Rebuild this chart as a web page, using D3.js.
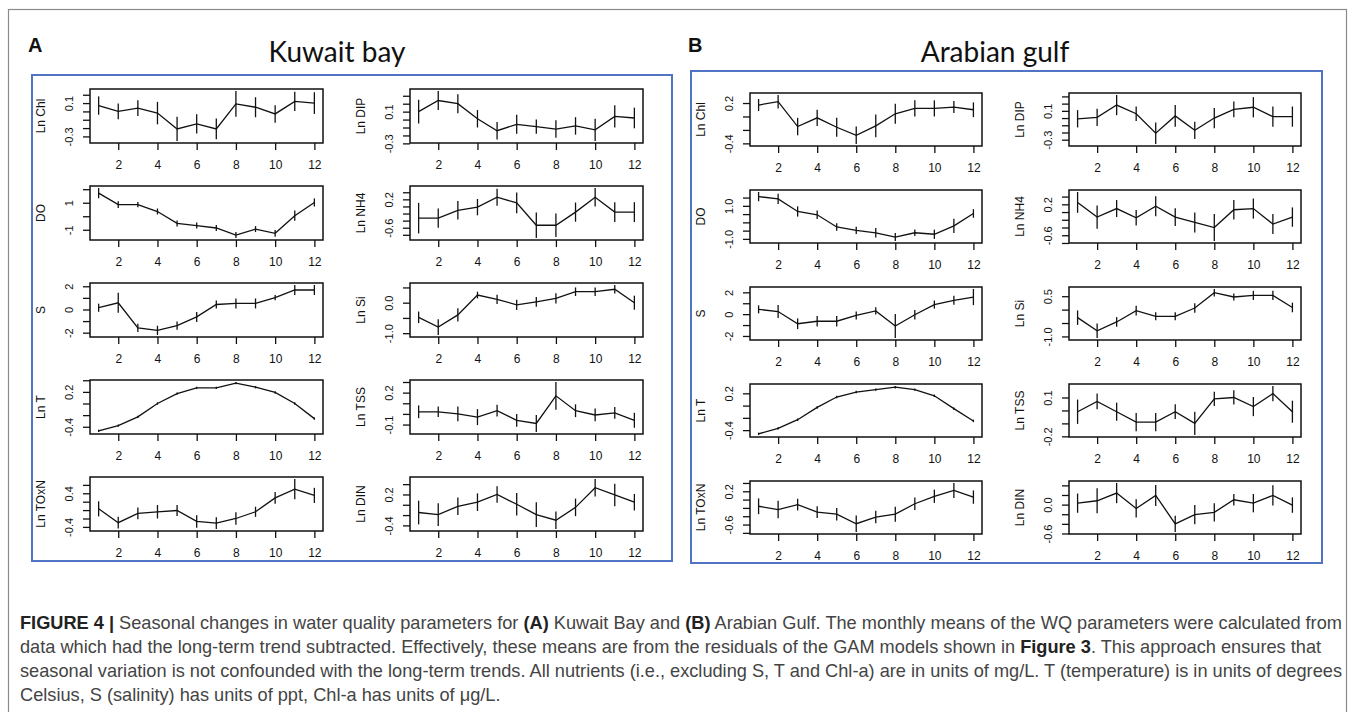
<!DOCTYPE html>
<html>
<head>
<meta charset="utf-8">
<script src="https://cdn.jsdelivr.net/npm/d3@7"></script>
<style>
  html, body { margin: 0; padding: 0; background: #fff; }
  svg { display: block; }
</style>
</head>
<body>
<div id="chart"></div>
<script>
const months = [1, 2, 3, 4, 5, 6, 7, 8, 9, 10, 11, 12];
const monthTicks = [2, 4, 6, 8, 10, 12];

// Kuwait bay (A): monthly means and error half-widths
const kwChl    = [0.07, 0.00, 0.04, -0.02, -0.21, -0.15, -0.21, 0.09, 0.05, -0.03, 0.12, 0.10];
const kwChlSe  = [0.11, 0.095, 0.095, 0.135, 0.145, 0.115, 0.125, 0.155, 0.12, 0.105, 0.115, 0.13];
const kwDO     = [1.71, 0.86, 0.86, 0.35, -0.53, -0.69, -0.87, -1.39, -0.95, -1.26, 0.04, 1.02];
const kwDOSe   = [0.38, 0.25, 0.20, 0.22, 0.22, 0.22, 0.22, 0.22, 0.22, 0.25, 0.38, 0.30];
const kwS      = [0.15, 0.58, -1.59, -1.80, -1.39, -0.64, 0.43, 0.52, 0.52, 1.02, 1.68, 1.68];
const kwSSe    = [0.35, 0.87, 0.35, 0.40, 0.35, 0.43, 0.35, 0.43, 0.43, 0.23, 0.43, 0.43];
const kwT      = [-0.47, -0.38, -0.23, 0.00, 0.17, 0.27, 0.27, 0.35, 0.28, 0.19, 0.00, -0.26];
const kwTSe    = [0.02, 0.02, 0.02, 0.02, 0.02, 0.02, 0.02, 0.02, 0.02, 0.02, 0.02, 0.02];
const kwTOxN   = [0.03, -0.30, -0.08, -0.04, -0.01, -0.27, -0.31, -0.20, -0.04, 0.29, 0.50, 0.35];
const kwTOxNSe = [0.18, 0.14, 0.14, 0.16, 0.13, 0.15, 0.14, 0.15, 0.12, 0.14, 0.24, 0.18];
const kwDIP    = [0.10, 0.24, 0.20, 0.01, -0.14, -0.06, -0.09, -0.12, -0.08, -0.13, 0.04, 0.02];
const kwDIPSe  = [0.15, 0.12, 0.12, 0.11, 0.11, 0.12, 0.09, 0.11, 0.11, 0.14, 0.14, 0.13];
const kwNH4    = [-0.33, -0.33, -0.11, -0.02, 0.26, 0.10, -0.53, -0.53, -0.16, 0.26, -0.16, -0.16];
const kwNH4Se  = [0.43, 0.27, 0.26, 0.23, 0.24, 0.29, 0.36, 0.33, 0.27, 0.26, 0.28, 0.28];
const kwSi     = [-0.48, -0.80, -0.40, 0.25, 0.11, -0.07, 0.03, 0.14, 0.36, 0.36, 0.44, 0.00];
const kwSiSe   = [0.19, 0.26, 0.22, 0.11, 0.15, 0.17, 0.16, 0.17, 0.14, 0.14, 0.14, 0.23];
const kwTSS    = [0.02, 0.02, 0.00, -0.03, 0.03, -0.06, -0.09, 0.17, 0.03, -0.01, 0.01, -0.06];
const kwTSSSe  = [0.06, 0.05, 0.07, 0.075, 0.055, 0.06, 0.08, 0.13, 0.06, 0.06, 0.055, 0.07];
const kwDIN    = [-0.15, -0.19, -0.03, 0.05, 0.20, 0.01, -0.19, -0.30, -0.05, 0.33, 0.19, 0.05];
const kwDINSe  = [0.23, 0.22, 0.17, 0.17, 0.16, 0.22, 0.24, 0.17, 0.17, 0.17, 0.22, 0.16];

// Arabian gulf (B)
const agChl    = [0.17, 0.22, -0.15, -0.02, -0.16, -0.28, -0.14, 0.04, 0.12, 0.12, 0.14, 0.10];
const agChlSe  = [0.09, 0.10, 0.13, 0.12, 0.14, 0.13, 0.17, 0.15, 0.12, 0.12, 0.09, 0.11];
const agDO     = [1.56, 1.42, 0.66, 0.46, -0.28, -0.48, -0.63, -0.89, -0.63, -0.72, -0.21, 0.54];
const agDOSe   = [0.28, 0.31, 0.31, 0.26, 0.22, 0.22, 0.29, 0.24, 0.20, 0.28, 0.43, 0.26];
const agS      = [0.44, 0.24, -0.88, -0.65, -0.65, -0.12, 0.30, -1.09, -0.05, 0.88, 1.27, 1.57];
const agSSe    = [0.37, 0.59, 0.49, 0.49, 0.49, 0.37, 0.33, 1.10, 0.44, 0.37, 0.41, 0.74];
const agT      = [-0.46, -0.37, -0.23, -0.03, 0.14, 0.22, 0.26, 0.30, 0.26, 0.16, -0.05, -0.25];
const agTSe    = [0.02, 0.02, 0.02, 0.02, 0.02, 0.02, 0.02, 0.02, 0.02, 0.02, 0.02, 0.02];
const agTOxN   = [-0.16, -0.24, -0.12, -0.30, -0.35, -0.58, -0.42, -0.35, -0.10, 0.08, 0.22, 0.06];
const agTOxNSe = [0.19, 0.21, 0.14, 0.14, 0.15, 0.20, 0.15, 0.18, 0.15, 0.16, 0.18, 0.16];
const agDIP    = [-0.01, 0.01, 0.18, 0.06, -0.21, 0.03, -0.17, 0.00, 0.12, 0.15, 0.02, 0.02];
const agDIPSe  = [0.12, 0.12, 0.14, 0.10, 0.15, 0.15, 0.12, 0.14, 0.11, 0.14, 0.14, 0.14];
const agNH4    = [0.25, -0.13, 0.09, -0.15, 0.15, -0.13, -0.27, -0.40, 0.06, 0.09, -0.31, -0.13];
const agNH4Se  = [0.27, 0.30, 0.22, 0.20, 0.26, 0.23, 0.26, 0.35, 0.25, 0.26, 0.26, 0.25];
const agSi     = [-0.30, -0.79, -0.46, -0.04, -0.25, -0.25, 0.06, 0.63, 0.47, 0.53, 0.53, 0.08];
const agSiSe   = [0.27, 0.27, 0.18, 0.18, 0.15, 0.15, 0.18, 0.14, 0.13, 0.17, 0.17, 0.18];
const agTSS    = [-0.01, 0.07, -0.01, -0.09, -0.09, -0.01, -0.10, 0.09, 0.10, 0.03, 0.13, -0.01];
const agTSSSe  = [0.094, 0.06, 0.07, 0.07, 0.07, 0.057, 0.09, 0.055, 0.055, 0.074, 0.059, 0.085];
const agDIN    = [0.03, 0.08, 0.24, -0.08, 0.19, -0.40, -0.21, -0.16, 0.10, 0.03, 0.19, -0.01];
const agDINSe  = [0.20, 0.26, 0.21, 0.19, 0.22, 0.17, 0.20, 0.19, 0.12, 0.19, 0.21, 0.16];

// y tick marks and the ones that carry a label (R skips overlapping labels)
const ticksChlA  = [-0.3, -0.2, -0.1, 0, 0.1, 0.2],        labChlA  = [-0.3, 0.1];
const ticksDOA   = [-1, 0, 1, 2],                          labDOA   = [-1, 1];
const ticksS     = [-2, -1, 0, 1, 2],                      labS     = [-2, 0, 2];
const ticksT     = [-0.4, -0.2, 0, 0.2, 0.4],              labT     = [-0.4, 0.2];
const ticksTOxNA = [-0.4, -0.2, 0, 0.2, 0.4, 0.6],         labTOxNA = [-0.4, 0.4];
const ticksDIP   = [-0.3, -0.2, -0.1, 0, 0.1, 0.2, 0.3],   labDIP   = [-0.3, 0.1];
const ticksNH4   = [-0.8, -0.6, -0.4, -0.2, 0, 0.2, 0.4],  labNH4   = [-0.6, 0.2];
const ticksSi    = [-1, -0.5, 0, 0.5],                     labSiA   = [-1, 0], labSiB = [-1, 0.5];
const ticksTSSA  = [-0.1, 0, 0.1, 0.2, 0.3],               labTSSA  = [-0.1, 0.2];
const ticksDINA  = [-0.4, -0.2, 0, 0.2, 0.4],              labDINA  = [-0.4, 0.2];
const ticksChlB  = [-0.4, -0.2, 0, 0.2],                   labChlB  = [-0.4, 0.2];
const ticksDOB   = [-1, -0.5, 0, 0.5, 1, 1.5],             labDOB   = [-1, 1];
const ticksTOxNB = [-0.8, -0.6, -0.4, -0.2, 0, 0.2, 0.4],  labTOxNB = [-0.6, 0.2];
const ticksTSSB  = [-0.2, -0.1, 0, 0.1],                   labTSSB  = [-0.2, 0.1];
const ticksDINB  = [-0.6, -0.4, -0.2, 0, 0.2, 0.4],        labDINB  = [-0.6, 0];

const captionLines = [
  [['FIGURE 4 | ', true], ['Seasonal changes in water quality parameters for ', false], ['(A)', true], [' Kuwait Bay and ', false], ['(B)', true], [' Arabian Gulf. The monthly means of the WQ parameters were calculated from', false]],
  [['data which had the long-term trend subtracted. Effectively, these means are from the residuals of the GAM models shown in ', false], ['Figure 3', true], ['. This approach ensures that', false]],
  [['seasonal variation is not confounded with the long-term trends. All nutrients (i.e., excluding S, T and Chl-a) are in units of mg/L. T (temperature) is in units of degrees', false]],
  [['Celsius, S (salinity) has units of ppt, Chl-a has units of \u03bcg/L.', false]],
];

const P = (label, mean, se, ticks, labels, dec) => ({ label, mean, se, ticks, labels, dec });

const kuwaitLeft = [
  P('Ln Chl', kwChl, kwChlSe, ticksChlA, labChlA, 1),
  P('DO', kwDO, kwDOSe, ticksDOA, labDOA, 0),
  P('S', kwS, kwSSe, ticksS, labS, 0),
  P('Ln T', kwT, kwTSe, ticksT, labT, 1),
  P('Ln TOxN', kwTOxN, kwTOxNSe, ticksTOxNA, labTOxNA, 1),
];
const kuwaitRight = [
  P('Ln DIP', kwDIP, kwDIPSe, ticksDIP, labDIP, 1),
  P('Ln NH4', kwNH4, kwNH4Se, ticksNH4, labNH4, 1),
  P('Ln Si', kwSi, kwSiSe, ticksSi, labSiA, 1),
  P('Ln TSS', kwTSS, kwTSSSe, ticksTSSA, labTSSA, 1),
  P('Ln DIN', kwDIN, kwDINSe, ticksDINA, labDINA, 1),
];
const gulfLeft = [
  P('Ln Chl', agChl, agChlSe, ticksChlB, labChlB, 1),
  P('DO', agDO, agDOSe, ticksDOB, labDOB, 1),
  P('S', agS, agSSe, ticksS, labS, 0),
  P('Ln T', agT, agTSe, ticksT, labT, 1),
  P('Ln TOxN', agTOxN, agTOxNSe, ticksTOxNB, labTOxNB, 1),
];
const gulfRight = [
  P('Ln DIP', agDIP, agDIPSe, ticksDIP, labDIP, 1),
  P('Ln NH4', agNH4, agNH4Se, ticksNH4, labNH4, 1),
  P('Ln Si', agSi, agSiSe, ticksSi, labSiB, 1),
  P('Ln TSS', agTSS, agTSSSe, ticksTSSB, labTSSB, 1),
  P('Ln DIN', agDIN, agDINSe, ticksDINB, labDINB, 1),
];

const W = 1355, H = 712;
const RFONT = '"Liberation Sans", Arial, sans-serif';
const svg = d3.select('#chart').append('svg').attr('width', W).attr('height', H);

// outer frame of the figure
svg.append('rect').attr('x', 8.5).attr('y', 9.5).attr('width', 1338).attr('height', 800)
  .attr('fill', 'none').attr('stroke', '#8a8a8a').attr('stroke-width', 1.2);

// blue group frames
const blue = '#4f74c4';
svg.append('rect').attr('x', 32).attr('y', 75).attr('width', 640).attr('height', 486)
  .attr('fill', 'none').attr('stroke', blue).attr('stroke-width', 2);
svg.append('rect').attr('x', 691).attr('y', 71).attr('width', 631).attr('height', 492)
  .attr('fill', 'none').attr('stroke', blue).attr('stroke-width', 2);

// letters and titles
svg.append('text').attr('x', 28).attr('y', 52).attr('font-family', RFONT).attr('font-weight', 700)
  .attr('font-size', 20).attr('fill', '#111').text('A');
svg.append('text').attr('x', 688).attr('y', 52).attr('font-family', RFONT).attr('font-weight', 700)
  .attr('font-size', 20).attr('fill', '#111').text('B');
svg.append('text').attr('x', 337).attr('y', 62).attr('text-anchor', 'middle').attr('font-family', 'Lato, "Open Sans", sans-serif')
  .attr('font-size', 28).attr('fill', '#111').text('Kuwait bay');
svg.append('text').attr('x', 995).attr('y', 62).attr('text-anchor', 'middle').attr('font-family', 'Lato, "Open Sans", sans-serif')
  .attr('font-size', 28).attr('fill', '#111').text('Arabian gulf');

function drawPanel(p, left, top, w, h) {
  const g = svg.append('g');
  const x = d3.scaleLinear().domain([0.56, 12.44]).range([left, left + w]);
  const lo = d3.min(p.mean, (d, i) => d - p.se[i]);
  const hi = d3.max(p.mean, (d, i) => d + p.se[i]);
  const pad = (hi - lo) * 0.04;
  const y = d3.scaleLinear().domain([lo - pad, hi + pad]).range([top + h, top]);
  const fmt = d => p.dec === 0 ? String(d) : d.toFixed(p.dec);
  const inside = p.ticks.filter(t => y(t) >= top - 2 && y(t) <= top + h + 2);

  const ya = g.append('g').attr('transform', `translate(${left},0)`)
    .call(d3.axisLeft(y).tickValues(inside).tickSize(7).tickSizeOuter(0)
      .tickFormat(d => p.labels.some(l => Math.abs(l - d) < 1e-9) ? fmt(d) : ''));
  ya.select('.domain').remove();
  ya.selectAll('.tick line').attr('stroke', '#111').attr('stroke-width', 1.3);
  ya.selectAll('.tick text').attr('x', 0).attr('y', -21).attr('dy', '0.35em')
    .attr('transform', 'rotate(-90)').attr('text-anchor', 'middle')
    .attr('font-family', RFONT).attr('font-size', 11).attr('fill', '#111');

  const xa = g.append('g').attr('transform', `translate(0,${top + h})`)
    .call(d3.axisBottom(x).tickValues(monthTicks).tickSize(7).tickSizeOuter(0));
  xa.select('.domain').remove();
  xa.selectAll('.tick line').attr('stroke', '#111').attr('stroke-width', 1.3);
  xa.selectAll('.tick text').attr('y', 17).attr('dy', '0.71em')
    .attr('font-family', RFONT).attr('font-size', 12).attr('fill', '#111');

  g.append('text').attr('transform', `translate(${left - 49},${top + h / 2}) rotate(-90)`)
    .attr('text-anchor', 'middle').attr('dy', '0.35em')
    .attr('font-family', RFONT).attr('font-size', 12).attr('fill', '#111').text(p.label);

  const pts = months.map((m, i) => ({ m, v: p.mean[i], e: p.se[i] }));
  g.append('path').datum(pts)
    .attr('d', d3.line().x(d => x(d.m)).y(d => y(d.v)))
    .attr('fill', 'none').attr('stroke', '#111').attr('stroke-width', 1.3);
  g.selectAll('.err').data(pts).enter().append('line')
    .attr('x1', d => x(d.m)).attr('x2', d => x(d.m))
    .attr('y1', d => y(d.v - d.e)).attr('y2', d => y(d.v + d.e))
    .attr('stroke', '#111').attr('stroke-width', 1.3);

  g.append('rect').attr('x', left).attr('y', top).attr('width', w).attr('height', h)
    .attr('fill', 'none').attr('stroke', '#111').attr('stroke-width', 1.5);
}

const rowsA = [89, 186, 283, 380, 477];
const rowsB = [93, 190, 287, 384, 481];
kuwaitLeft.forEach((p, i) => drawPanel(p, 90, rowsA[i], 233, 54));
kuwaitRight.forEach((p, i) => drawPanel(p, 410, rowsA[i], 233, 54));
gulfLeft.forEach((p, i) => drawPanel(p, 750, rowsB[i], 232, 53));
gulfRight.forEach((p, i) => drawPanel(p, 1069, rowsB[i], 232, 53));

// caption
const cap = svg.append('g').attr('font-family', RFONT).attr('font-size', 18.2);
captionLines.forEach((line, i) => {
  const t = cap.append('text').attr('x', 20).attr('y', 629 + i * 24);
  line.forEach(([s, bold]) => {
    t.append('tspan').attr('font-weight', bold ? 700 : 400)
      .attr('fill', bold ? '#222' : '#444').text(s);
  });
});
</script>
</body>
</html>
